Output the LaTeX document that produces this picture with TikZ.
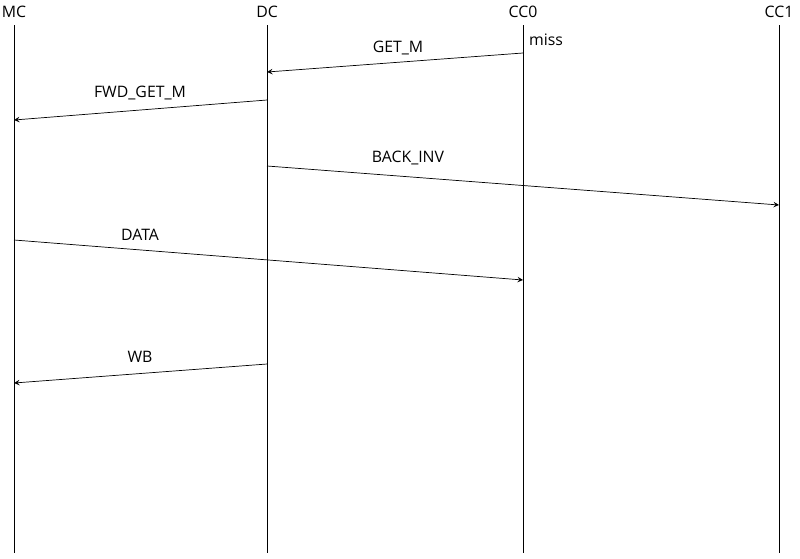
\documentclass[tikz,border=0pt]{standalone}
\usepackage{fontspec}
\setmainfont{Open Sans}
\usetikzlibrary{positioning}
\begin{document}
\begin{tikzpicture}[x=0.02cm,y=-0.02cm,>=stealth,thin,
		actor/.style={font=\small,inner sep=1pt},
		msg/.style={font=\small,inner sep=1pt}]
	\useasboundingbox (0,0) rectangle (800,558);

	% lifelines
	\node [actor] (mc) at (14,12) {MC};
	\node [actor] (dc) at (267,12) {DC};
	\node [actor] (cc0) at (523,12) {CC0};
	\node [actor] (cc1) at (779,12) {CC1};
	\foreach \n/\x in {mc/14,dc/267,cc0/523,cc1/779}
		\draw (\x,25) coordinate (\n-top) -- (\x,553) coordinate (\n-bot);

	% message end points
	\coordinate (getm-s) at (523,53);  \coordinate (getm-e) at (267,72);
	\coordinate (fwd-s) at (267,100);  \coordinate (fwd-e) at (14,120);
	\coordinate (inv-s) at (267,166);  \coordinate (inv-e) at (779,205);
	\coordinate (data-s) at (14,240);  \coordinate (data-e) at (523,280);
	\coordinate (wb-s) at (267,364);   \coordinate (wb-e) at (14,383);

	\draw [->] (getm-s) -- (getm-e);
	\draw [->] (fwd-s) -- (fwd-e);
	\draw [->] (inv-s) -- (inv-e);
	\draw [->] (data-s) -- (data-e);
	\draw [->] (wb-s) -- (wb-e);

	\node [msg] (lbl-getm) at (398,48) {GET\_M};
	\node [msg] (lbl-miss) at (546,40) {miss};
	\node [msg] (lbl-fwd) at (140,93) {FWD\_GET\_M};
	\node [msg] (lbl-inv) at (408,158) {BACK\_INV};
	\node [msg] (lbl-data) at (140,235) {DATA};
	\node [msg] (lbl-wb) at (140,357) {WB};
\end{tikzpicture}
\end{document}
